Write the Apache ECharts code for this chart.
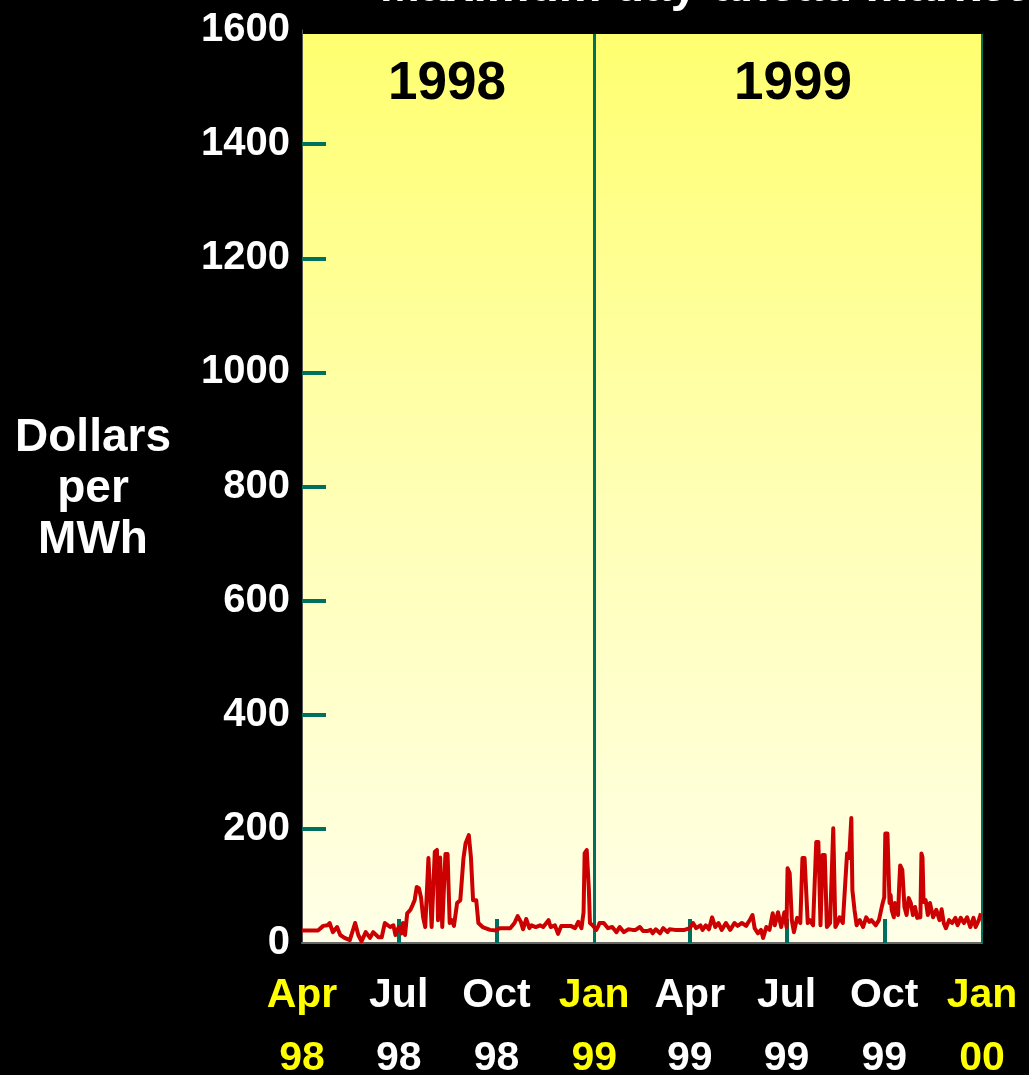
<!DOCTYPE html>
<html>
<head>
<meta charset="utf-8">
<title>Day-ahead market prices</title>
<script src="https://cdn.jsdelivr.net/npm/echarts@6/dist/echarts.min.js"></script>
<style>
  html, body { margin: 0; padding: 0; background: #000; }
  #chart { width: 1029px; height: 1075px; }
</style>
</head>
<body>
<div id="chart"></div>
<script>
// Daily maximum day-ahead price, $/MWh. Days are counted from 1 April 1998.
const dayNumbers = [
  0, 8, 15, 20, 24, 26, 29, 33, 36, 40, 45, 50, 53, 56, 60, 64, 67, 72, 75, 78,
  83, 86, 88, 91, 94, 95, 97, 99, 102, 104, 106, 108, 110, 112, 114, 116, 119, 120, 122, 125,
  127, 128, 130, 132, 135, 137, 139, 141, 143, 146, 149, 150, 152, 154, 157, 159, 161, 164, 166, 170,
  177, 183, 186, 196, 200, 203, 206, 208, 211, 214, 216, 220, 224, 227, 232, 234, 238, 241, 244, 248,
  253, 257, 260, 263, 265, 266, 268, 270, 271, 274, 277, 279, 280, 284, 288, 292, 296, 299, 303, 307,
  311, 314, 318, 321, 325, 328, 330, 333, 337, 340, 344, 346, 351, 356, 360, 365, 368, 371, 375, 377,
  380, 383, 386, 389, 392, 395, 399, 403, 407, 410, 414, 418, 422, 424, 426, 429, 432, 434, 437, 440,
  443, 445, 448, 451, 454, 456, 457, 459, 461, 463, 466, 469, 471, 473, 476, 478, 481, 484, 486, 488,
  490, 492, 494, 497, 500, 502, 504, 506, 509, 513, 515, 517, 518, 520, 522, 525, 528, 531, 534, 536,
  540, 543, 546, 548, 549, 551, 553, 554, 555, 557, 558, 561, 562, 563, 565, 567, 569, 571, 573, 575,
  577, 579, 582, 583, 584, 585, 587, 589, 591, 594, 597, 600, 602, 604, 606, 609, 612, 615, 617, 620,
  623, 626, 629, 632, 634, 637, 639
];
const prices = [
  22, 22, 22, 30, 31, 35, 19, 28, 14, 9, 5, 35, 14, 3, 19, 9, 19, 10, 10, 35,
  28, 31, 14, 28, 17, 35, 14, 52, 58, 66, 75, 98, 96, 80, 45, 28, 149, 149, 28, 160,
  163, 40, 150, 28, 156, 156, 35, 40, 30, 70, 75, 72, 149, 175, 189, 150, 75, 75, 35, 28,
  23, 22, 26, 26, 35, 47, 37, 24, 42, 26, 31, 28, 31, 28, 40, 28, 31, 16, 30, 30,
  30, 26, 37, 26, 54, 157, 163, 93, 35, 30, 23, 30, 35, 35, 26, 28, 19, 28, 19, 24,
  23, 23, 28, 21, 21, 23, 17, 24, 17, 26, 19, 24, 23, 23, 23, 26, 35, 26, 31, 23,
  31, 24, 45, 28, 35, 23, 35, 23, 35, 30, 35, 30, 42, 49, 26, 17, 23, 9, 28, 23,
  52, 31, 54, 28, 54, 28, 131, 122, 40, 19, 44, 35, 149, 149, 35, 40, 31, 177, 177, 31,
  154, 154, 28, 35, 201, 28, 35, 45, 35, 157, 149, 219, 93, 58, 31, 40, 28, 45, 37, 40,
  31, 40, 66, 80, 192, 192, 70, 84, 58, 45, 70, 49, 98, 136, 128, 63, 49, 79, 70, 49,
  63, 44, 45, 157, 150, 72, 75, 49, 70, 45, 58, 40, 59, 35, 26, 40, 35, 44, 31, 44,
  35, 45, 28, 44, 28, 40, 52
];

// Quarter marks along the day axis
const quarterDates = ['1998-04-01', '1998-07-01', '1998-10-01', '1999-01-01',
                      '1999-04-01', '1999-07-01', '1999-10-01', '2000-01-01'];
const monthLabels = ['Apr', 'Jul', 'Oct', 'Jan', 'Apr', 'Jul', 'Oct', 'Jan'];
const yearLabels = ['98', '98', '98', '99', '99', '99', '99', '00'];
const highlightedQuarters = [0, 3, 7];   // drawn in yellow

const yTicks = [200, 400, 600, 800, 1000, 1200, 1400];
const yearBands = [
  { label: '1998', x: 447 },
  { label: '1999', x: 793 }
];

const FONT = '"Liberation Sans", Arial, Helvetica, sans-serif';
const TEAL = '#00705e';
const DAY = 86400000;

function toTime(s) {
  const [y, m, d] = s.split('-').map(Number);
  return Date.UTC(y, m - 1, d);
}
const startTime = toTime(quarterDates[0]);
const quarterDays = quarterDates.map(s => Math.round((toTime(s) - startTime) / DAY));
const innerQuarterDays = quarterDays.filter((t, i) => i !== 0 && i !== 3 && i !== 7);
const seriesData = dayNumbers.map((d, i) => [d, prices[i]]);

const chart = echarts.init(document.getElementById('chart'), null, { renderer: 'canvas' });

chart.setOption({
  backgroundColor: '#000',
  animation: false,
  textStyle: { fontFamily: FONT },
  grid: {
    left: 302, right: 47, top: 30, bottom: 132,
    containLabel: false,
    outerBoundsMode: 'none'
  },
  graphic: [
    {
      type: 'rect',
      z: -10,
      shape: { x: 302, y: 34, width: 680, height: 909 },
      style: {
        fill: {
          type: 'linear', x: 0, y: 0, x2: 0, y2: 1,
          colorStops: [
            { offset: 0, color: '#ffff70' },
            { offset: 0.5, color: '#ffffb4' },
            { offset: 1, color: '#ffffe8' }
          ]
        }
      }
    },
    {
      type: 'text',
      x: 380, y: -12,
      style: {
        text: 'Maximum day-ahead market prices',
        fill: '#fff', font: 'bold 48px ' + FONT,
        align: 'left', verticalAlign: 'middle'
      }
    },
    {
      type: 'text',
      x: 93, y: 489,
      style: {
        text: 'Dollars\nper\nMWh',
        fill: '#fff', font: 'bold 46px ' + FONT,
        lineHeight: 51, align: 'center', verticalAlign: 'middle'
      }
    }
  ].concat(yearBands.map(b => ({
    type: 'text',
    x: b.x, y: 84, z: 10,
    style: {
      text: b.label,
      fill: '#000', font: 'bold 53px ' + FONT,
      align: 'center', verticalAlign: 'middle'
    }
  }))),
  xAxis: {
    type: 'value',
    min: quarterDays[0],
    max: quarterDays[7],
    axisLine: { show: true, lineStyle: { color: '#666', width: 2 } },
    splitLine: { show: false },
    axisTick: {
      show: true,
      inside: true,
      length: 24,
      customValues: innerQuarterDays,
      lineStyle: { color: TEAL, width: 4 }
    },
    axisLabel: {
      show: true,
      customValues: quarterDays,
      margin: 21,
      hideOverlap: false,
      showMinLabel: true,
      showMaxLabel: true,
      formatter: function (value) {
        const i = quarterDays.indexOf(value);
        if (i < 0) return '';
        const hi = highlightedQuarters.indexOf(i) >= 0;
        return hi ? '{my|' + monthLabels[i] + '}\n{yy|' + yearLabels[i] + '}'
                  : '{mw|' + monthLabels[i] + '}\n{yw|' + yearLabels[i] + '}';
      },
      rich: {
        my: { color: '#ffff00', fontSize: 41, fontWeight: 'bold', fontFamily: FONT, lineHeight: 63 },
        yy: { color: '#ffff00', fontSize: 41, fontWeight: 'bold', fontFamily: FONT, lineHeight: 63 },
        mw: { color: '#ffffff', fontSize: 41, fontWeight: 'bold', fontFamily: FONT, lineHeight: 63 },
        yw: { color: '#ffffff', fontSize: 41, fontWeight: 'bold', fontFamily: FONT, lineHeight: 63 }
      }
    }
  },
  yAxis: {
    type: 'value',
    min: 0,
    max: 1600,
    interval: 200,
    axisLine: { show: true, lineStyle: { color: '#555', width: 1 } },
    splitLine: { show: false },
    axisTick: {
      show: true,
      inside: true,
      length: 24,
      customValues: yTicks,
      lineStyle: { color: TEAL, width: 4 }
    },
    axisLabel: {
      color: '#fff',
      fontSize: 40,
      fontWeight: 'bold',
      fontFamily: FONT,
      margin: 12,
      formatter: v => String(v)
    }
  },
  series: [{
    type: 'line',
    data: seriesData,
    showSymbol: false,
    symbol: 'none',
    lineStyle: { color: '#cc0000', width: 4, join: 'round' },
    z: 5,
    markLine: {
      silent: true,
      symbol: 'none',
      label: { show: false },
      z: 4,
      data: [
        [
          { coord: [quarterDays[3], 0], lineStyle: { color: TEAL, width: 3, type: 'solid' } },
          { coord: [quarterDays[3], 1593] }
        ],
        [
          { coord: [quarterDays[7], 0], lineStyle: { color: TEAL, width: 2, type: 'solid' } },
          { coord: [quarterDays[7], 1593] }
        ]
      ]
    }
  }]
});
</script>
</body>
</html>
